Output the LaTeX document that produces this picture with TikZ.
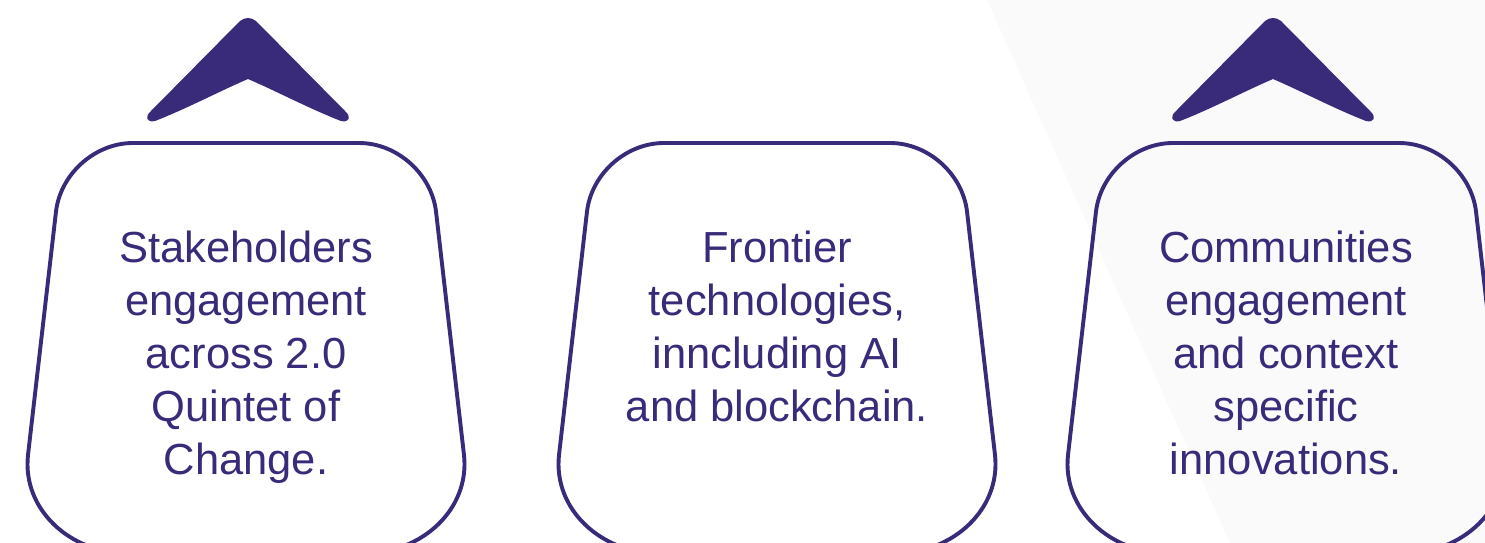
\documentclass[tikz,border=0pt]{standalone}
\usepackage{fontspec}
\setmainfont{Liberation Sans}
\definecolor{deeppurple}{HTML}{3A2A7A}
\definecolor{paleshade}{HTML}{FAFAFB}

\begin{document}
\begin{tikzpicture}[x=1pt,y=1pt,yscale=-1,xscale=1,
  tagline/.style={draw=deeppurple,line width=3.9pt},
  chevfill/.style={fill=deeppurple,draw=none},
  tagtext/.style={text=deeppurple,align=center,inner sep=0pt,anchor=base,font=\fontsize{43.5}{53}\selectfont}]
\useasboundingbox (0,0) rectangle (1485,543);
\clip (0,0) rectangle (1485,543);

%Shape: Polygon 
\fill[paleshade] (987,0) -- (1485,0) -- (1485,543) -- (1230,543) -- cycle ;

%Shape: Chevron 
\path[chevfill] (240,21) .. controls (245,17) and (251,17) .. (256,21) -- (345,111) .. controls (352,117) and (349,123) .. (341,121) .. controls (310,109) and (276,91) .. (248,79) .. controls (220,91) and (186,109) .. (155,121) .. controls (147,123) and (144,117) .. (151,111) -- cycle ;
%Shape: Chevron 
\path[chevfill] (1265,21) .. controls (1270,17) and (1276,17) .. (1281,21) -- (1370,111) .. controls (1377,117) and (1374,123) .. (1366,121) .. controls (1335,109) and (1301,91) .. (1273,79) .. controls (1245,91) and (1211,109) .. (1180,121) .. controls (1172,123) and (1169,117) .. (1176,111) -- cycle ;

%Shape: Rounded Tag 
\draw[tagline] (126,553) .. controls (71,553) and (22,510) .. (28,455) -- (56,211.5) .. controls (60.5,173.7) and (95,143) .. (133,143) -- (359,143) .. controls (397,143) and (431.5,173.7) .. (436,211.5) -- (464,455) .. controls (470,510) and (421,553) .. (366,553) -- cycle ;
%Shape: Rounded Tag 
\draw[tagline] (657,553) .. controls (602,553) and (553,510) .. (559,455) -- (587,211.5) .. controls (591.5,173.7) and (626,143) .. (664,143) -- (890,143) .. controls (928,143) and (962.5,173.7) .. (967,211.5) -- (995,455) .. controls (1001,510) and (952,553) .. (897,553) -- cycle ;
%Shape: Rounded Tag 
\draw[tagline] (1166,553) .. controls (1111,553) and (1062,510) .. (1068,455) -- (1096,211.5) .. controls (1100.5,173.7) and (1135,143) .. (1173,143) -- (1399,143) .. controls (1437,143) and (1471.5,173.7) .. (1476,211.5) -- (1504,455) .. controls (1510,510) and (1461,553) .. (1406,553) -- cycle ;

% Text Node (base = last line)
\node[tagtext] (stakeholders) at (246,474) {Stakeholders\\engagement\\across 2.0\\Quintet of\\Change.};
% Text Node
\node[tagtext] (frontier) at (777,421) {Frontier\\technologies,\\inncluding AI\\and blockchain.};
% Text Node
\node[tagtext] (communities) at (1286,474) {Communities\\engagement\\and context\\specific\\innovations.};

\end{tikzpicture}
\end{document}
